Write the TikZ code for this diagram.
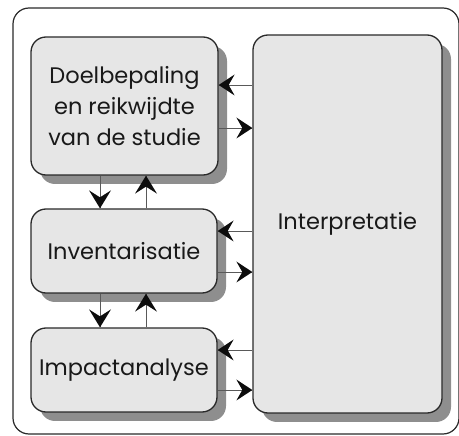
\documentclass[tikz,border=0pt]{standalone}
\usepackage{fontspec}
\setmainfont{Poppins}
\usetikzlibrary{shadows}
\definecolor{boxfill}{HTML}{E6E6E6}
\definecolor{shade}{HTML}{8E8E8E}
\definecolor{edge}{HTML}{2A2A2A}
\tikzset{
  stagebox/.style={draw=edge, line width=1.3pt, fill=boxfill, rounded corners=15pt,
    inner sep=0pt, align=center, text=black!90, font=\fontsize{22.5}{31}\selectfont,
    general shadow={shadow xshift=9pt, shadow yshift=-9pt, fill=shade, rounded corners=15pt}},
  conn/.style={draw=black!65, line width=0.8pt},
  chevron/.style={fill=black!95, draw=none},
}
\begin{document}
\begin{tikzpicture}[x=1pt,y=-1pt]
\useasboundingbox (0,0) rectangle (459,436);
\draw[edge, line width=1.2pt, rounded corners=16pt] (13,8) rectangle (459,434);
\node[stagebox, minimum width=187pt, minimum height=138pt] (A) at (124.5,106) {Doelbepaling\\en reikwijdte\\van de studie};
\node[stagebox, minimum width=186pt, minimum height=84pt] (B) at (124,251) {Inventarisatie};
\node[stagebox, minimum width=186pt, minimum height=84pt] (C) at (124,370) {Impactanalyse};
\node[stagebox, minimum width=189pt, minimum height=378pt] (I) at (347.5,224) {Interpretatie};
% horizontal connectors, pointing left (to the stages)
\foreach \n/\yy in {A/85, B/231, C/350}{
  \draw[conn] (I.west |- 0,\yy) -- (\n.east |- 0,\yy);
  \fill[chevron] (\n.east |- 0,\yy) -- ++(16,-10.5) -- ++(-6,10.5) -- ++(6,10.5) -- cycle;
}
% horizontal connectors, pointing right (to Interpretatie)
\foreach \n/\yy in {A/128, B/272, C/390}{
  \draw[conn] (\n.east |- 0,\yy) -- (I.west |- 0,\yy);
  \fill[chevron] (I.west |- 0,\yy) -- ++(-16,-10.5) -- ++(6,10.5) -- ++(-6,10.5) -- cycle;
}
% vertical connectors
\foreach \u/\l in {A/B, B/C}{
  \draw[conn] (\u.south -| 100,0) -- (\l.north -| 100,0);
  \fill[chevron] (\l.north -| 100,0) -- ++(-11,-18) -- ++(11,7) -- ++(11,-7) -- cycle;
  \draw[conn] (\l.north -| 146,0) -- (\u.south -| 146,0);
  \fill[chevron] (\u.south -| 146,0) -- ++(-11,18) -- ++(11,-7) -- ++(11,7) -- cycle;
}
\end{tikzpicture}
\end{document}
